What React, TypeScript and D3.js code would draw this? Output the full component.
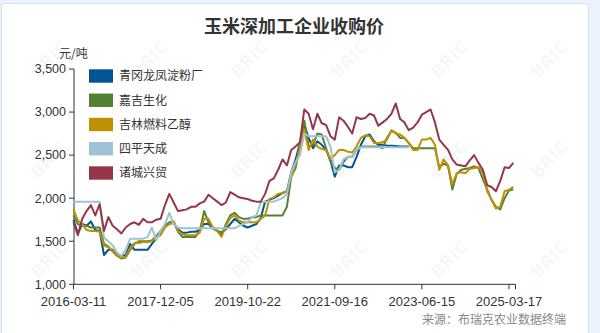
import React from "react";
import * as d3 from "d3";

const title = "玉米深加工企业收购价";
const unit = "元/吨";
const source = "来源：布瑞克农业数据终端";
const seriesNames = ["青冈龙凤淀粉厂", "嘉吉生化", "吉林燃料乙醇", "四平天成", "诸城兴贸"];
const seriesColors = ["#025592", "#548235", "#bf9000", "#9dc3d5", "#953748"];
const xTickLabels = ["2016-03-11", "2017-12-05", "2019-10-22", "2021-09-16", "2023-06-15", "2025-03-17"];
const xTickIndex = [0, 20, 40, 60, 80, 100];
const yTicks = [1000, 1500, 2000, 2500, 3000, 3500];

const blue = [
  1750, 1590, 1700, 1680, 1730, 1630, 1620, 1340, 1400, 1400,
  1340, 1330, 1340, 1470, 1400, 1400, 1400, 1400, 1470, 1530,
  1600, 1680, 1710, 1710, 1640, 1600, 1600, 1610, 1610, 1630,
  1700, 1700, 1650, 1620, 1600, 1640, 1700, 1760, 1720, 1680,
  1660, 1680, 1700, 1770, 1960, 1980, 2000, 2030, 2060, 2080,
  2300, 2450, 2640, 2850, 2700, 2580, 2660, 2620, 2560, 2440,
  2250, 2380, 2380, 2360, 2360, 2480, 2620, 2720, 2740, 2660,
  2620, 2620, 2610, 2610, 2605, 2600, 2600, 2600,
];
const green = [
  1800, 1700, 1680, 1680, 1660, 1660, 1660, 1470, 1440, 1380,
  1330, 1300, 1310, 1400, 1470, 1500, 1500, 1500, 1510, 1560,
  1620, 1680, 1720, 1730, 1610, 1550, 1550, 1550, 1550, 1620,
  1850, 1720, 1660, 1620, 1580, 1700, 1800, 1830, 1780, 1760,
  1760, 1780, 1780, 1800, 1800, 1800, 1800, 1800, 1800, 1900,
  2250, 2350, 2620, 2900, 2600, 2620, 2750, 2740, 2580, 2430,
  2350, 2330, 2420, 2480, 2480, 2560, 2600, 2600, 2600, 2600,
  2600, 2580, 2700, 2780, 2760, 2700, 2700, 2640, 2580, 2580,
  2580, 2580, 2580, 2580, 2360, 2400, 2380, 2100, 2280, 2330,
  2340, 2350, 2370, 2350, 2220, 2100, 1980, 1900, 1870, 2000,
  2090, 2100,
];
const gold = [
  1870, 1740, 1700, 1630, 1620, 1620, 1610, 1450, 1430, 1390,
  1340, 1310, 1320, 1420, 1480, 1480, 1490, 1490, 1500, 1550,
  1570, 1660, 1700, 1720, 1620, 1580, 1570, 1570, 1570, 1600,
  1760, 1760, 1660, 1620, 1550, 1680, 1770, 1800, 1740, 1720,
  1720, 1720, 1720, 1760, 1800, 1990, 2010, 2050, 2060, 2080,
  2250, 2400, 2580, 2800, 2560, 2680, 2600, 2570, 2560, 2460,
  2500, 2560, 2560, 2540, 2530, 2600, 2700, 2730, 2720, 2640,
  2640, 2650, 2680, 2790, 2750, 2740, 2700, 2640, 2560, 2560,
  2680, 2680, 2700, 2620, 2330, 2450, 2380, 2160, 2290, 2300,
  2290, 2340, 2350, 2360, 2300, 2080, 1980, 1880, 1900, 2080,
  2100, 2130,
];
const lightBlue = [
  1960, 1960, 1960, 1960, 1960, 1960, 1960, 1540, 1500, 1450,
  1370, 1330, 1400, 1530, 1530, 1530, 1530, 1550, 1660, 1510,
  1620, 1700, 1830, 1700, 1660, 1650, 1650, 1650, 1650, 1650,
  1650, 1650, 1650, 1650, 1650, 1650, 1650, 1650, 1680, 1700,
  1720, 1780, 1800, 1950, 1960, 1960, 1960, 1980, 2000, 2050,
  2300, 2420, 2500, 2750, 2720, 2720, 2720, 2720, 2720, 2600,
  2300, 2330, 2450, 2480, 2480, 2560, 2590, 2590, 2590, 2590,
  2590, 2590, 2590, 2590, 2590, 2590, 2590, 2590,
];
const red = [
  1720, 1570, 1760, 1850, 1920, 1800, 1930, 1620, 1780, 1680,
  1640, 1590, 1660, 1700, 1720, 1690, 1760, 1720, 1720, 1750,
  1760, 1920, 2050, 1950, 1850, 1860, 1870, 1900, 1900, 1940,
  1960, 2040, 2000, 1960, 1920, 1950, 2070, 2040, 2010, 2000,
  1990, 1970, 1960, 1960, 2050, 2200, 2230, 2330, 2450, 2380,
  2560, 2600, 2650, 3030, 2980, 2800, 2980, 2870, 2850, 2720,
  2680, 2940, 2900, 2830, 2750, 2940, 2920, 2930, 2980, 2960,
  2840, 2880, 2920, 2980, 3100, 2920, 2880, 2790, 2820, 2880,
  2970, 3000, 3030, 2880, 2680, 2620, 2560, 2450, 2390, 2380,
  2370, 2440, 2500, 2410, 2330, 2150, 2130, 2080, 2200, 2360,
  2350, 2410,
];

const allSeries = [blue, green, gold, lightBlue, red];

const W = 600;
const H = 333;
const FONT = "'Noto Sans CJK SC', 'Noto Sans', sans-serif";
const NUM_FONT = "'Liberation Sans', Arial, sans-serif";

export default function App() {
  const x = d3.scaleLinear().domain([0, 101.5]).range([73.5, 515.5]);
  const y = d3.scaleLinear().domain([1000, 3500]).range([284.3, 69]);
  const line = d3
    .line<number>()
    .x((_, i) => x(i))
    .y((d) => y(d));

  const wmX = [50, 150, 250, 350, 450, 550];
  const wmY = [60, 160, 260];

  return (
    <svg
      width={W}
      height={H}
      style={{ position: "absolute", left: 0, top: 0, display: "block" }}
      fontFamily={FONT}
    >
      <rect x={0} y={0} width={W} height={H} fill="#eaf2fb" />
      <rect x={1.5} y={3.5} width={587} height={345} rx={3} fill="#ffffff" stroke="#cfe1f4" />
      <g>
        {wmY.map((wy) =>
          wmX.map((wx) => (
            <text
              key={`${wx}-${wy}`}
              x={wx}
              y={wy}
              transform={`rotate(-45 ${wx} ${wy})`}
              textAnchor="middle"
              dominantBaseline="middle"
              fontSize={17}
              fontWeight="bold"
              fill="#000"
              fillOpacity={0.05}
              fontFamily="'DejaVu Sans', sans-serif"
            >
              BRIC
            </text>
          ))
        )}
      </g>
      <text x={294} y={33} textAnchor="middle" fontSize={18} fontWeight="bold" fill="#333">
        {title}
      </text>
      <text x={59} y={58} fontSize={12} fill="#333">
        {unit}
      </text>
      {/* y axis */}
      <line x1={74} x2={74} y1={69} y2={284.3} stroke="#333" strokeWidth={1} />
      {yTicks.map((t) => (
        <g key={t}>
          <line x1={69} x2={74} y1={y(t)} y2={y(t)} stroke="#333" />
          <text
            x={66}
            y={y(t)}
            dy="0.35em"
            textAnchor="end"
            fontSize={12.5}
            fill="#333"
            fontFamily={NUM_FONT}
          >
            {d3.format(",")(t)}
          </text>
        </g>
      ))}
      {/* x axis */}
      <line x1={73.5} x2={515.5} y1={284.3} y2={284.3} stroke="#333" />
      {xTickIndex.map((ti, k) => (
        <g key={ti}>
          <line x1={x(ti)} x2={x(ti)} y1={284.3} y2={289.3} stroke="#333" />
          <text
            x={x(ti)}
            y={305.5}
            textAnchor="middle"
            fontSize={13}
            fill="#333"
            fontFamily={NUM_FONT}
          >
            {xTickLabels[k]}
          </text>
        </g>
      ))}
      <line x1={515.5} x2={515.5} y1={284.3} y2={289.3} stroke="#333" />
      {/* series */}
      {allSeries.map((s, k) => (
        <path
          key={k}
          d={line(s) || ""}
          fill="none"
          stroke={seriesColors[k]}
          strokeWidth={2}
          strokeLinejoin="round"
        />
      ))}
      {/* legend */}
      {seriesNames.map((n, k) => (
        <g key={n} transform={`translate(89, ${69.3 + k * 24.25})`}>
          <rect x={0} y={0} width={24} height={13.4} fill={seriesColors[k]} />
          <text x={30} y={6.7} dy="0.36em" fontSize={12} fill="#333">
            {n}
          </text>
        </g>
      ))}
      <text x={566} y={324} textAnchor="end" fontSize={12} fill="#888">
        {source}
      </text>
    </svg>
  );
}
